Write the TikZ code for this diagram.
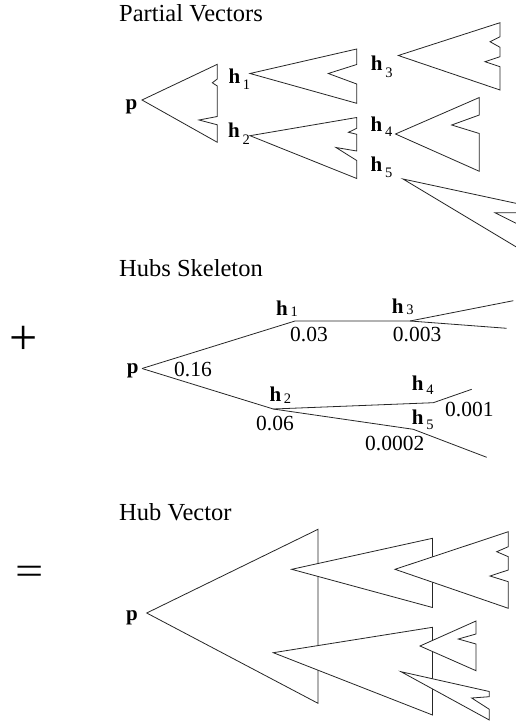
\documentclass[tikz,border=0pt]{standalone}
\usepackage{fontspec}
\setmainfont{Liberation Serif}
\newcommand{\hlab}[2]{{\bfseries h}\kern2.7pt\raisebox{-#2}{\fontsize{14.5}{14.5}\selectfont #1}}
\begin{document}
\begin{tikzpicture}[x=1pt,y=-1pt,
  ln/.style={line width=0.8pt, line join=miter, draw=black!85},
  tri/.style={ln, fill=white},
  ttl/.style={anchor=base west, inner sep=0pt, font=\fontsize{24.5}{24.5}\selectfont},
  lbl/.style={anchor=base west, inner sep=0pt, font=\fontsize{21}{21}\selectfont},
  num/.style={anchor=base west, inner sep=0pt, font=\fontsize{21.5}{21.5}\selectfont},
  sym/.style={inner sep=0pt, font=\fontsize{50}{50}\selectfont}]
\useasboundingbox (0,0) rectangle (516,725);

% ---------- titles and operators ----------
\node[ttl] (t1) at (119,22) {Partial Vectors};
\node[ttl] (t2) at (119,276) {Hubs Skeleton};
\node[ttl] (t3) at (119,520) {Hub Vector};
\node[sym] (plus) at (23.3,340) {+};
\node[sym] (eq) at (30,575.7) {\scalebox{1}[0.8]{=}};

% ---------- Partial Vectors ----------
\draw[tri] (142,100) -- (217.3,64.3) -- (217.3,79) -- (212.3,82.8) -- (217.3,86)
  -- (217.3,116.5) -- (199,120) -- (217.3,124.8) -- (217.3,142.3) -- cycle;
\draw[tri] (250,73.5) -- (356.7,49) -- (356.7,64.5) -- (328.3,73.5) -- (356.7,84)
  -- (356.7,103.3) -- cycle;
\draw[tri] (250,135.7) -- (356.7,117.5) -- (356.7,128.3) -- (348.5,132.3) -- (356.7,134.3)
  -- (356.7,151) -- (336,147.5) -- (356.7,160.5) -- (356.7,178.5) -- cycle;
\draw[tri] (398.3,55.5) -- (500,22.7) -- (500,36.7) -- (490,41.7) -- (500,47.3)
  -- (500,56.7) -- (485,61.7) -- (500,66.7) -- (500,90) -- cycle;
\draw[tri] (395.5,134) -- (479.3,97.5) -- (479.3,115) -- (451.7,125) -- (479.3,133.5)
  -- (479.3,171.3) -- cycle;
\draw[tri] (403,179) -- (535,207.4) -- (535,212.7) -- (495,212.7) -- (535,232.7)
  -- (535,258.2) -- cycle;

\node[lbl] (pp) at (125.5,109.3) {\bfseries p};
\node[lbl] (ph1) at (228.3,83.3) {\hlab{1}{6.5pt}};
\node[lbl] (ph2) at (228,137.3) {\hlab{2}{7pt}};
\node[lbl] (ph3) at (370.7,70.7) {\hlab{3}{6.5pt}};
\node[lbl] (ph4) at (370.5,131) {\hlab{4}{5.5pt}};
\node[lbl] (ph5) at (370.5,171.7) {\hlab{5}{5.5pt}};

% ---------- Hubs Skeleton ----------
\coordinate (sp) at (142,368.5);
\coordinate (s1) at (295,321);
\coordinate (s3) at (410,321);
\coordinate (s3a) at (513.3,300.7);
\coordinate (s3b) at (506.7,328.3);
\coordinate (s2) at (273.3,409);
\coordinate (s4) at (433.3,402.7);
\coordinate (s4a) at (471.7,389.3);
\coordinate (s5) at (413.3,429.3);
\coordinate (s5a) at (486.7,457.3);
\draw[ln] (sp) -- (s1) -- (s3) -- (s3a);
\draw[ln] (s3) -- (s3b);
\draw[ln] (sp) -- (s2) -- (s4) -- (s4a);
\draw[ln] (s2) -- (s5) -- (s5a);

\node[lbl] (sp-l) at (126.7,373.3) {\bfseries p};
\node[num] (n016) at (174,376) {0.16};
\node[lbl] (sh1) at (276,315) {\hlab{1}{1pt}};
\node[num] (n003) at (290,341) {0.03};
\node[lbl] (sh3) at (391.7,313.3) {\hlab{3}{1pt}};
\node[num] (n0003) at (392.7,341) {0.003};
\node[lbl] (sh2) at (269.3,401.7) {\hlab{2}{2pt}};
\node[num] (n006) at (256,430) {0.06};
\node[lbl] (sh4) at (411.7,390.7) {\hlab{4}{4pt}};
\node[num] (n0001) at (445,416.7) {0.001};
\node[lbl] (sh5) at (411.7,424.3) {\hlab{5}{5pt}};
\node[num] (n00002) at (365,450) {0.0002};

% ---------- Hub Vector ----------
\draw[tri] (146.7,613) -- (318,529.3) -- (318,703.3) -- cycle;
\draw[tri] (291.7,569.3) -- (432.5,538.3) -- (432.5,607.5) -- cycle;
\draw[tri] (395,569.3) -- (508.3,531.7) -- (508.3,546.7) -- (496.7,551.7) -- (508.3,556.7)
  -- (508.3,570) -- (490,576) -- (508.3,581.7) -- (508.3,608.3) -- cycle;
\draw[tri] (273.3,652.7) -- (432.5,627.3) -- (432.5,715) -- cycle;
\draw[tri] (420,646) -- (476,621) -- (476,634) -- (458.3,639) -- (476,644)
  -- (476,670.7) -- cycle;
\draw[tri] (401,671.7) -- (489.3,691.5) -- (489.3,696.7) -- (471.7,698) -- (489.3,709.3)
  -- (489.3,720) -- cycle;
\node[lbl] (vp) at (126,620) {\bfseries p};
\end{tikzpicture}
\end{document}
